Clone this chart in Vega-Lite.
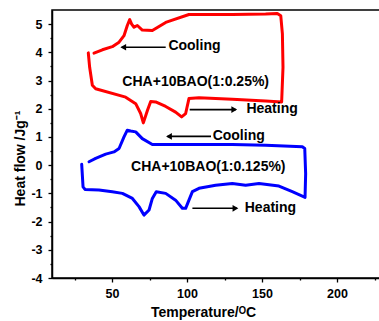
{
  "$schema": "https://vega.github.io/schema/vega-lite/v6.json",
  "autosize": "none",
  "width": 330,
  "height": 268,
  "padding": {"left": 52, "top": 10, "right": 0, "bottom": 43},
  "background": "white",
  "config": {
    "view": {"stroke": "black", "strokeWidth": 1.5},
    "font": "Liberation Sans",
    "axis": {
      "grid": false,
      "domainColor": "black",
      "domainWidth": 1.5,
      "tickColor": "black",
      "tickWidth": 1.3,
      "labelFont": "Liberation Sans",
      "labelFontWeight": "bold",
      "labelFontSize": 12.5,
      "labelColor": "black",
      "titleFont": "Liberation Sans",
      "titleFontWeight": "bold",
      "titleFontSize": 14,
      "titleColor": "black",
      "labelOverlap": false
    }
  },
  "datasets": {
    "curves": [
      {"series": "r", "i": 0, "T": 34.2, "Q": 3.98},
      {"series": "r", "i": 1, "T": 35.1, "Q": 3.47},
      {"series": "r", "i": 2, "T": 36.9, "Q": 2.83},
      {"series": "r", "i": 3, "T": 39.1, "Q": 2.71},
      {"series": "r", "i": 4, "T": 59.1, "Q": 2.41},
      {"series": "r", "i": 5, "T": 65.8, "Q": 2.18},
      {"series": "r", "i": 6, "T": 69.1, "Q": 1.83},
      {"series": "r", "i": 7, "T": 70.9, "Q": 1.5},
      {"series": "r", "i": 8, "T": 73.6, "Q": 1.94},
      {"series": "r", "i": 9, "T": 75.8, "Q": 2.26},
      {"series": "r", "i": 10, "T": 79.1, "Q": 2.24},
      {"series": "r", "i": 11, "T": 85.8, "Q": 2.08},
      {"series": "r", "i": 12, "T": 92.4, "Q": 1.88},
      {"series": "r", "i": 13, "T": 96.4, "Q": 1.71},
      {"series": "r", "i": 14, "T": 99.1, "Q": 1.83},
      {"series": "r", "i": 15, "T": 101.3, "Q": 2.36},
      {"series": "r", "i": 16, "T": 108, "Q": 2.39},
      {"series": "r", "i": 17, "T": 130.2, "Q": 2.34},
      {"series": "r", "i": 18, "T": 152.4, "Q": 2.27},
      {"series": "r", "i": 19, "T": 163.1, "Q": 2.24},
      {"series": "r", "i": 20, "T": 164, "Q": 3.47},
      {"series": "r", "i": 21, "T": 163.6, "Q": 4.65},
      {"series": "r", "i": 22, "T": 162.5, "Q": 5.3},
      {"series": "r", "i": 23, "T": 160.2, "Q": 5.38},
      {"series": "r", "i": 24, "T": 152.4, "Q": 5.36},
      {"series": "r", "i": 25, "T": 130.2, "Q": 5.34},
      {"series": "r", "i": 26, "T": 101.3, "Q": 5.34},
      {"series": "r", "i": 27, "T": 85.8, "Q": 5.06},
      {"series": "r", "i": 28, "T": 76.9, "Q": 4.77},
      {"series": "r", "i": 29, "T": 70.2, "Q": 4.79},
      {"series": "r", "i": 30, "T": 66.9, "Q": 4.95},
      {"series": "r", "i": 31, "T": 64.7, "Q": 4.89},
      {"series": "r", "i": 32, "T": 63.1, "Q": 5.0},
      {"series": "r", "i": 33, "T": 61.8, "Q": 5.16},
      {"series": "r", "i": 34, "T": 60.2, "Q": 4.95},
      {"series": "r", "i": 35, "T": 58, "Q": 4.59},
      {"series": "r", "i": 36, "T": 54.7, "Q": 4.36},
      {"series": "r", "i": 37, "T": 50.2, "Q": 4.2},
      {"series": "r", "i": 38, "T": 43.6, "Q": 4.09},
      {"series": "r", "i": 39, "T": 38, "Q": 3.97},
      {"series": "b", "i": 0, "T": 29.8, "Q": 0.03},
      {"series": "b", "i": 1, "T": 30.7, "Q": -0.77},
      {"series": "b", "i": 2, "T": 32, "Q": -0.86},
      {"series": "b", "i": 3, "T": 41.3, "Q": -0.88},
      {"series": "b", "i": 4, "T": 50.2, "Q": -0.94},
      {"series": "b", "i": 5, "T": 56.9, "Q": -1.0},
      {"series": "b", "i": 6, "T": 63.6, "Q": -1.18},
      {"series": "b", "i": 7, "T": 68, "Q": -1.47},
      {"series": "b", "i": 8, "T": 71.3, "Q": -1.77},
      {"series": "b", "i": 9, "T": 74.7, "Q": -1.59},
      {"series": "b", "i": 10, "T": 76.9, "Q": -1.18},
      {"series": "b", "i": 11, "T": 79.5, "Q": -0.94},
      {"series": "b", "i": 12, "T": 85.8, "Q": -1.0},
      {"series": "b", "i": 13, "T": 92.4, "Q": -1.24},
      {"series": "b", "i": 14, "T": 96.9, "Q": -1.53},
      {"series": "b", "i": 15, "T": 99.1, "Q": -1.53},
      {"series": "b", "i": 16, "T": 101.3, "Q": -1.24},
      {"series": "b", "i": 17, "T": 103.6, "Q": -0.94},
      {"series": "b", "i": 18, "T": 108, "Q": -0.82},
      {"series": "b", "i": 19, "T": 119.1, "Q": -0.71},
      {"series": "b", "i": 20, "T": 130.2, "Q": -0.65},
      {"series": "b", "i": 21, "T": 139.1, "Q": -0.71},
      {"series": "b", "i": 22, "T": 148, "Q": -0.65},
      {"series": "b", "i": 23, "T": 161.3, "Q": -0.74},
      {"series": "b", "i": 24, "T": 170.2, "Q": -0.94},
      {"series": "b", "i": 25, "T": 178.7, "Q": -1.14},
      {"series": "b", "i": 26, "T": 179.1, "Q": -0.3},
      {"series": "b", "i": 27, "T": 178.5, "Q": 0.59},
      {"series": "b", "i": 28, "T": 176.9, "Q": 0.65},
      {"series": "b", "i": 29, "T": 152.4, "Q": 0.71},
      {"series": "b", "i": 30, "T": 130.2, "Q": 0.73},
      {"series": "b", "i": 31, "T": 108, "Q": 0.73},
      {"series": "b", "i": 32, "T": 76.9, "Q": 0.73},
      {"series": "b", "i": 33, "T": 70.2, "Q": 0.94},
      {"series": "b", "i": 34, "T": 65.8, "Q": 1.18},
      {"series": "b", "i": 35, "T": 62.4, "Q": 1.21},
      {"series": "b", "i": 36, "T": 60.2, "Q": 1.24},
      {"series": "b", "i": 37, "T": 58, "Q": 1.0},
      {"series": "b", "i": 38, "T": 54.7, "Q": 0.59},
      {"series": "b", "i": 39, "T": 51.3, "Q": 0.47},
      {"series": "b", "i": 40, "T": 45.8, "Q": 0.39},
      {"series": "b", "i": 41, "T": 39.1, "Q": 0.24},
      {"series": "b", "i": 42, "T": 34.7, "Q": 0.12}
    ],
    "arrows": [
      {"T": 85.8, "T2": 56.5, "Q": 4.18},
      {"T": 101.8, "T2": 132.5, "Q": 1.97},
      {"T": 116, "T2": 87, "Q": 1.02},
      {"T": 103.6, "T2": 133.3, "Q": -1.53}
    ],
    "heads": [
      {"T": 57.5, "Q": 4.18, "dir": "left"},
      {"T": 131.5, "Q": 1.97, "dir": "right"},
      {"T": 88, "Q": 1.02, "dir": "left"},
      {"T": 132.3, "Q": -1.53, "dir": "right"}
    ],
    "words": [
      {"T": 87.6, "Q": 4.24, "text": "Cooling"},
      {"T": 139.6, "Q": 1.98, "text": "Heating"},
      {"T": 117.1, "Q": 1.04, "text": "Cooling"},
      {"T": 138.5, "Q": -1.53, "text": "Heating"}
    ],
    "names": [
      {"T": 105.8, "Q": 2.95, "text": "CHA+10BAO(1:0.25%)"},
      {"T": 114.2, "Q": -0.08, "text": "CHA+10BAO(1:0.125%)"}
    ]
  },
  "encoding": {
    "x": {
      "field": "T", "type": "quantitative",
      "scale": {"domain": [10, 230], "nice": false, "zero": false},
      "axis": {
        "title": "Temperature/ᴼC",
        "values": [25, 50, 75, 100, 125, 150, 175, 200, 225],
        "labelExpr": "datum.value % 50 === 0 ? '' + datum.value : ''",
        "labelOverlap": false,
        "tickSize": {"condition": {"test": "datum.value % 50 === 0", "value": 4}, "value": 2},
        "labelPadding": 5,
        "titlePadding": 6,
        "titleX": 151
      }
    },
    "y": {
      "field": "Q", "type": "quantitative",
      "scale": {"domain": [-4, 5.5], "nice": false, "zero": false},
      "axis": {
        "title": "Heat flow /Jg⁻¹",
        "values": [-4, -3.5, -3, -2.5, -2, -1.5, -1, -0.5, 0, 0.5, 1, 1.5, 2, 2.5, 3, 3.5, 4, 4.5, 5],
        "labelExpr": "abs(datum.value - round(datum.value)) < 0.01 ? '' + datum.value : ''",
        "labelOverlap": false,
        "tickSize": {"condition": {"test": "abs(datum.value - round(datum.value)) < 0.01", "value": 4}, "value": 2},
        "labelPadding": 6,
        "titlePadding": 3,
        "titleY": 148
      }
    }
  },
  "layer": [
    {
      "data": {"name": "curves"},
      "mark": {"type": "line", "strokeWidth": 3, "strokeJoin": "round", "strokeCap": "round"},
      "encoding": {
        "color": {
          "field": "series", "type": "nominal",
          "scale": {"domain": ["r", "b"], "range": ["#ff0000", "#0000ff"]},
          "legend": null
        },
        "order": {"field": "i", "type": "quantitative"}
      }
    },
    {
      "data": {"name": "arrows"},
      "mark": {"type": "rule", "color": "black", "strokeWidth": 1.6},
      "encoding": {
        "x2": {"field": "T2"}
      }
    },
    {
      "data": {"name": "heads"},
      "mark": {"type": "point", "filled": true, "color": "black", "opacity": 1, "size": 45},
      "encoding": {
        "shape": {
          "field": "dir", "type": "nominal",
          "scale": {"domain": ["left", "right"], "range": ["triangle-left", "triangle-right"]},
          "legend": null
        }
      }
    },
    {
      "data": {"name": "words"},
      "mark": {"type": "text", "font": "Liberation Sans", "fontWeight": "bold", "fontSize": 14, "align": "left", "baseline": "middle", "color": "black"},
      "encoding": {
        "text": {"field": "text"}
      }
    },
    {
      "data": {"name": "names"},
      "mark": {"type": "text", "font": "Liberation Sans", "fontWeight": "bold", "fontSize": 14, "align": "center", "baseline": "middle", "color": "black"},
      "encoding": {
        "text": {"field": "text"}
      }
    }
  ]
}
